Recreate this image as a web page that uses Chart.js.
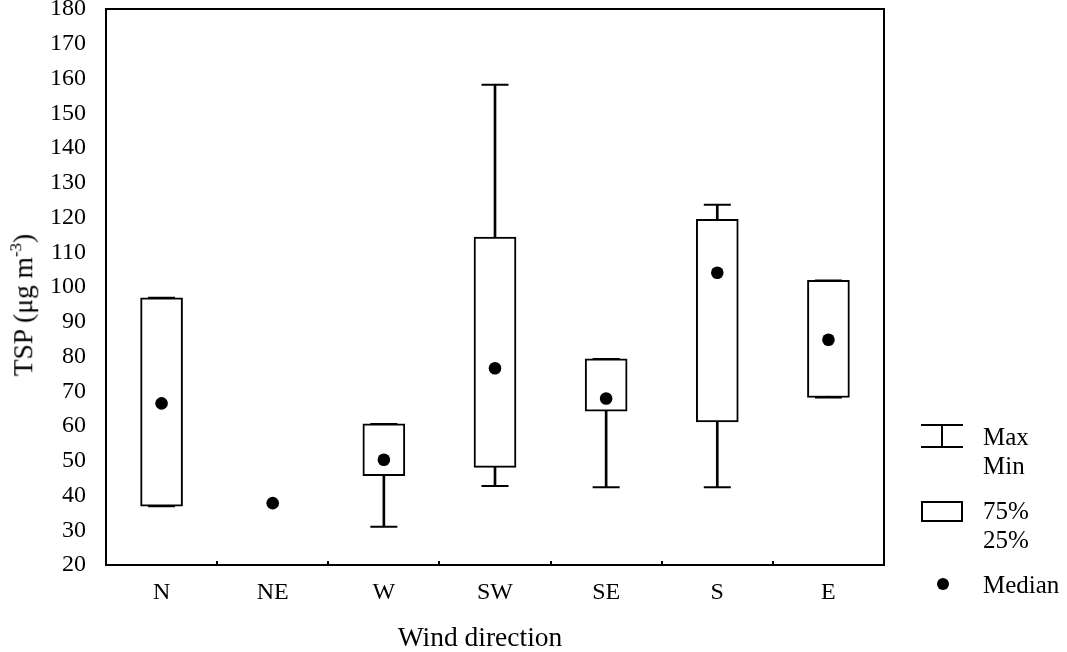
<!DOCTYPE html>
<html><head><meta charset="utf-8">
<script src="https://cdn.jsdelivr.net/npm/chart.js@4.4.1/dist/chart.umd.min.js"></script>
<style>
html,body{margin:0;padding:0;background:#fff;}
#wrap{position:relative;width:1067px;height:652px;font-family:"Liberation Serif","Times New Roman",serif;color:#000;overflow:hidden;}
canvas{position:absolute;left:0;top:0;}
.t{position:absolute;font-size:25px;line-height:1;white-space:nowrap;}
#ytitle{position:absolute;left:23px;top:305px;font-size:27.5px;line-height:1;white-space:nowrap;transform:translate(-50%,-50%) rotate(-90deg);}
#ytitle sup{font-size:17px;vertical-align:0;position:relative;top:-11px;}
#xtitle{position:absolute;left:480px;top:638px;font-size:27.5px;line-height:1;white-space:nowrap;transform:translate(-50%,-55%);}
#lgW{position:absolute;left:921px;top:424px;width:42px;height:20px;border-top:2px solid #000;border-bottom:2px solid #000;}
#lgW div{position:absolute;left:20px;top:0;width:2px;height:20px;background:#000;}
#lgB{position:absolute;left:921px;top:501px;width:38px;height:17px;border:2px solid #000;}
#lgM{position:absolute;left:937px;top:578px;width:12px;height:12px;border-radius:50%;background:#000;}
</style></head><body>
<div id="wrap">
<canvas id="c" width="1067" height="652"></canvas>
<div id="ytitle">TSP (μg m<sup>-3</sup>)</div>
<div id="xtitle">Wind direction</div>
<div id="lgW"><div></div></div>
<div class="t" style="left:983px;top:424px;">Max</div>
<div class="t" style="left:983px;top:453px;">Min</div>
<div id="lgB"></div>
<div class="t" style="left:983px;top:498px;">75%</div>
<div class="t" style="left:983px;top:527px;">25%</div>
<div id="lgM"></div>
<div class="t" style="left:983px;top:572px;">Median</div>
</div>
<script>
const categories = ["N", "NE", "W", "SW", "SE", "S", "E"];
const minValues    = [36.9, 37.8, 31.0, 42.7, 42.4, 42.4, 68.2];
const q1Values     = [36.9, 37.8, 45.7, 48.1, 64.3, 61.2, 68.2];
const medianValues = [66.5, 37.8, 50.3, 76.6, 67.9, 104.1, 84.8];
const q3Values     = [96.9, 37.8, 60.6, 114.4, 79.3, 119.5, 101.9];
const maxValues    = [96.9, 37.8, 60.6, 158.2, 79.3, 123.7, 101.9];
const yMin = 20, yMax = 180, yStep = 10;

const FONT = {family: '"Liberation Serif", "Times New Roman", serif', size: 24};

const whiskerData = categories.map((c, i) => maxValues[i] > minValues[i] ? [minValues[i], maxValues[i]] : null);
const boxData = categories.map((c, i) => q3Values[i] > q1Values[i] ? [q1Values[i], q3Values[i]] : null);
const minCaps = categories.map((c, i) => maxValues[i] > minValues[i] ? minValues[i] : null);
const maxCaps = categories.map((c, i) => maxValues[i] > minValues[i] ? maxValues[i] : null);

const frame = {
  id: 'frame',
  afterDraw(chart) {
    const {ctx, chartArea: a, scales: {x}} = chart;
    ctx.save();
    ctx.strokeStyle = '#000';
    ctx.lineWidth = 2;
    ctx.strokeRect(a.left, a.top, a.right - a.left, a.bottom - a.top);
    ctx.beginPath();
    for (let i = 1; i < categories.length; i++) {
      const px = Math.round((x.getPixelForValue(i - 1) + x.getPixelForValue(i)) / 2);
      ctx.moveTo(px, a.bottom);
      ctx.lineTo(px, a.bottom - 4);
    }
    ctx.stroke();
    ctx.restore();
  }
};

new Chart(document.getElementById('c'), {
  type: 'bar',
  data: {
    labels: categories,
    datasets: [
      {type: 'line', data: medianValues, showLine: false, pointStyle: 'circle', pointRadius: 6.3, pointHoverRadius: 6.3,
       pointBackgroundColor: '#000', pointBorderWidth: 0, order: 1},
      {type: 'line', data: maxCaps, showLine: false, pointStyle: 'line', pointRadius: 13.5, pointHoverRadius: 13.5,
       pointBorderColor: '#000', pointBorderWidth: 2, order: 2},
      {type: 'line', data: minCaps, showLine: false, pointStyle: 'line', pointRadius: 13.5, pointHoverRadius: 13.5,
       pointBorderColor: '#000', pointBorderWidth: 2, order: 2},
      {data: boxData, backgroundColor: '#fff', borderColor: '#000', borderWidth: 2, borderSkipped: false,
       barThickness: 42, grouped: false, order: 3},
      {data: whiskerData, backgroundColor: '#000', borderWidth: 0, barThickness: 2, grouped: false, order: 4}
    ]
  },
  options: {
    responsive: false,
    animation: false,
    events: [],
    layout: {autoPadding: false, padding: {left: 0, right: 183, top: 9, bottom: 0}},
    plugins: {legend: {display: false}, tooltip: {enabled: false}},
    scales: {
      x: {
        type: 'category',
        offset: true,
        grid: {display: false},
        border: {display: false},
        ticks: {color: '#000', font: FONT, padding: 5},
        title: {display: false},
        afterFit(s) { s.height = 87; s.paddingLeft = 0; s.paddingRight = 0; }
      },
      y: {
        min: yMin, max: yMax,
        grid: {display: false},
        border: {display: false},
        ticks: {stepSize: yStep, color: '#000', font: FONT, padding: 12},
        afterFit(s) { s.width = 106; s.paddingTop = 0; s.paddingBottom = 0; }
      }
    }
  },
  plugins: [frame]
});
</script>
</body></html>
